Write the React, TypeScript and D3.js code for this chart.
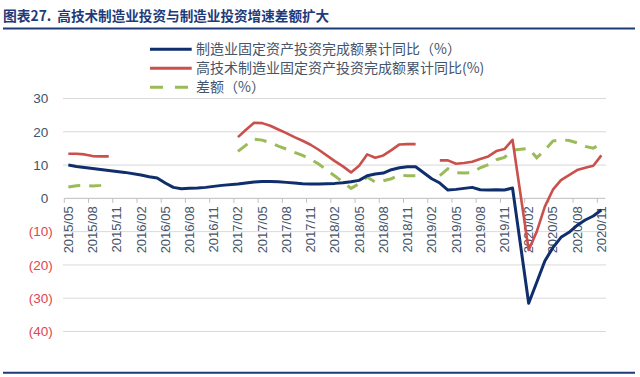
import React from "react";
import * as d3 from "d3";

const months: string[] = [
  "2015/05","2015/06","2015/07","2015/08","2015/09","2015/10","2015/11","2015/12",
  "2016/02","2016/03","2016/04","2016/05","2016/06","2016/07","2016/08","2016/09","2016/10","2016/11","2016/12",
  "2017/02","2017/03","2017/04","2017/05","2017/06","2017/07","2017/08","2017/09","2017/10","2017/11","2017/12",
  "2018/02","2018/03","2018/04","2018/05","2018/06","2018/07","2018/08","2018/09","2018/10","2018/11","2018/12",
  "2019/02","2019/03","2019/04","2019/05","2019/06","2019/07","2019/08","2019/09","2019/10","2019/11","2019/12",
  "2020/02","2020/03","2020/04","2020/05","2020/06","2020/07","2020/08","2020/09","2020/10","2020/11",
];

// 制造业固定资产投资完成额累计同比（%）
const mfg: number[] = [
  10.0, 9.6, 9.3, 9.0, 8.7, 8.4, 8.1, 7.8,
  7.0, 6.5, 6.1, 4.6, 3.3, 2.9, 3.0, 3.1, 3.3, 3.6, 3.9,
  4.3, 4.6, 4.9, 5.1, 5.1, 5.0, 4.8, 4.6, 4.4, 4.3, 4.3,
  4.5, 4.7, 5.0, 5.4, 6.8, 7.3, 7.6, 8.6, 9.2, 9.5, 9.5,
  5.9, 4.6, 2.5, 2.7, 3.0, 3.3, 2.6, 2.5, 2.6, 2.5, 3.1,
  -31.5, -25.2, -18.8, -14.8, -11.7, -10.2, -8.1, -6.5, -5.3, -3.5,
];

// 高技术制造业固定资产投资完成额累计同比(%)
const hiTech: (number | null)[] = [
  13.4, 13.4, 13.2, 12.7, 12.6, 12.6, null, null,
  null, null, null, null, null, null, null, null, null, null, null,
  18.4, 20.6, 22.7, 22.6, 21.8, 20.7, 19.6, 18.4, 17.3, 16.1, 14.6,
  11.2, 9.6, 7.8, 9.8, 13.2, 12.2, 12.9, 14.5, 16.2, 16.3, 16.3,
  null, 11.4, 11.4, 10.4, 10.6, 11.0, 11.8, 12.6, 14.2, 14.8, 17.6,
  -15.5, -10.0, -2.5, 2.6, 5.5, 7.0, 8.5, 9.2, 9.8, 12.9,
];

// 差额（%）
const diff: (number | null)[] = [
  3.4, 3.8, 3.9, 3.7, 3.9, 4.2, null, null,
  null, null, null, null, null, null, null, null, null, null, null,
  14.1, 16.0, 17.8, 17.5, 16.7, 15.7, 14.8, 13.8, 12.9, 11.8, 10.3,
  6.7, 4.9, 3.0, 4.4, 6.4, 4.9, 5.3, 5.9, 7.0, 6.8, 6.8,
  null, 6.8, 8.9, 7.7, 7.6, 7.7, 9.2, 10.1, 11.6, 12.3, 14.5,
  15.0, 12.2, 14.5, 17.2, 17.6, 17.4, 16.7, 15.6, 15.1, 16.4,
];

const yTicks: number[] = [30, 20, 10, 0, -10, -20, -30, -40];
const xLabels: string[] = [
  "2015/05","2015/08","2015/11","2016/02","2016/05","2016/08","2016/11","2017/02",
  "2017/05","2017/08","2017/11","2018/02","2018/05","2018/08","2018/11","2019/02",
  "2019/05","2019/08","2019/11","2020/02","2020/05","2020/08","2020/11",
];

const title = "图表27.";
const titleText = "高技术制造业投资与制造业投资增速差额扩大";
const legendNames: string[] = [
  "制造业固定资产投资完成额累计同比（%）",
  "高技术制造业固定资产投资完成额累计同比(%)",
  "差额（%）",
];

const BLUE = "#0F2E6C";
const RED = "#C9504C";
const GREEN = "#9BBB59";
const NAVY = "#1F3A7A";
const TXT = "#44546A";
const NEG = "#E0464E";

function monthIndex(s: string): number {
  const [y, m] = s.split("/").map(Number);
  return (y - 2015) * 12 + (m - 5);
}

export default function App() {
  const W = 640, H = 377;
  const x = d3.scaleLinear().domain([0, 67]).range([64.3, 605.4]);
  const y = d3.scaleLinear().domain([-40, 30]).range([331.5, 98.5]);
  const cx = (s: string) => x(monthIndex(s) + 0.5);

  type P = { m: string; v: number | null };
  const mk = (arr: (number | null)[]): P[] => months.map((m, i) => ({ m, v: arr[i] }));
  const line = d3
    .line<P>()
    .defined((d) => d.v != null)
    .x((d) => cx(d.m))
    .y((d) => y(d.v as number));

  const y0 = y(0);
  const font = "'Liberation Sans', Arial, sans-serif";
  const cjk = "'Noto Sans CJK SC', 'Liberation Sans', sans-serif";

  const tickIdx = d3.range(0, 68, 3);

  return (
    <svg
      width={W}
      height={H}
      style={{ position: "absolute", left: 0, top: 0, background: "#fff" }}
    >
      <rect width={W} height={H} fill="#fff" />
      {/* title */}
      <text x={3} y={21} fontFamily={cjk} fontWeight={700} fontSize={13.8} fill={NAVY}>
        {title}
      </text>
      <text x={57.3} y={21} fontFamily={cjk} fontWeight={700} fontSize={13.6} fill={NAVY}>
        {titleText}
      </text>
      <line x1={3} x2={635} y1={28.5} y2={28.5} stroke={NAVY} strokeWidth={2} />
      <line x1={3} x2={635} y1={372.7} y2={372.7} stroke={NAVY} strokeWidth={2} />

      {/* gridlines */}
      {yTicks.filter((t) => t !== 0).map((t) => (
        <line key={t} x1={63} x2={606} y1={y(t)} y2={y(t)} stroke="#D9D9D9" strokeWidth={1} />
      ))}

      {/* y labels */}
      {yTicks.map((t) => (
        <text
          key={"yl" + t}
          x={t < 0 ? 52.7 : 48.3}
          y={y(t)}
          dy="0.35em"
          textAnchor="end"
          fontFamily={font}
          fontSize={13.5}
          fill={t < 0 ? NEG : TXT}
        >
          {t < 0 ? `(${Math.abs(t)})` : `${t}`}
        </text>
      ))}

      {/* x axis */}
      <line x1={64.3} x2={605.4} y1={y0} y2={y0} stroke="#BFBFBF" strokeWidth={1} />
      {tickIdx.map((i) => (
        <line key={"t" + i} x1={x(i)} x2={x(i)} y1={y0} y2={y0 + 4.5} stroke="#BFBFBF" strokeWidth={1} />
      ))}
      {xLabels.map((l) => (
        <text
          key={l}
          transform={`translate(${cx(l)},${y0 + 8}) rotate(-90)`}
          dy="0.35em"
          textAnchor="end"
          fontFamily={font}
          fontSize={13}
          fill={TXT}
        >
          {l}
        </text>
      ))}

      {/* series */}
      <path d={line(mk(diff)) || ""} fill="none" stroke={GREEN} strokeWidth={3} strokeDasharray="12,9" />
      <path d={line(mk(hiTech)) || ""} fill="none" stroke={RED} strokeWidth={2.6} strokeLinejoin="round" />
      <path d={line(mk(mfg)) || ""} fill="none" stroke={BLUE} strokeWidth={3} strokeLinejoin="round" />

      {/* legend */}
      {legendNames.map((n, i) => {
        const ly = 49.3 + i * 19;
        return (
          <g key={n}>
            {i < 2 ? (
              <line x1={150} x2={191.7} y1={ly} y2={ly} stroke={i === 0 ? BLUE : RED} strokeWidth={3} />
            ) : (
              <line x1={150} x2={191.7} y1={ly} y2={ly} stroke={GREEN} strokeWidth={3} strokeDasharray="13,12" />
            )}
            <text x={196} y={ly} dy="0.36em" fontFamily={cjk} fontSize={14} fill={TXT}>
              {n}
            </text>
          </g>
        );
      })}
    </svg>
  );
}
